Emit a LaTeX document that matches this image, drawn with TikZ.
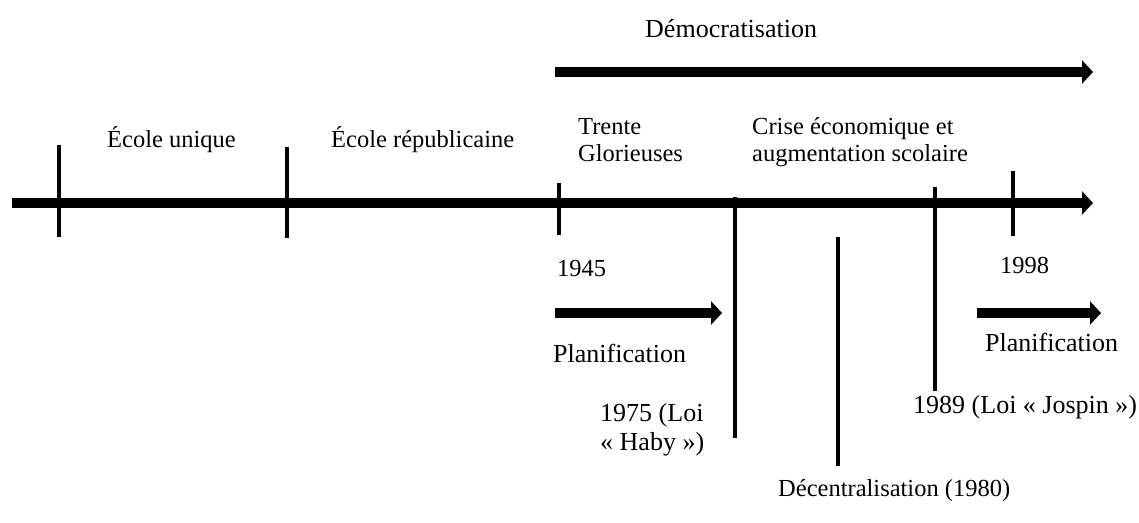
\documentclass[tikz,border=0pt]{standalone}
\usepackage{fontspec}
\setmainfont{Liberation Serif}
\usetikzlibrary{arrows.meta}

\tikzset{
	period/.style={line width=10pt, -{Triangle[length=11pt,width=23pt]}},
	tickline/.style={line width=3.5pt},
	lbl/.style={font=\fontsize{24.5}{27}\selectfont, inner sep=0pt, align=left},
	biglbl/.style={lbl, font=\fontsize{26}{29}\selectfont}
}

\begin{document}
\begin{tikzpicture}[x=1pt, y=-1pt]
	\useasboundingbox (0,0) rectangle (1139,522);
	% time axis and periods
	\coordinate (axisL) at (12,203);
	\coordinate (axisR) at (1093,203);
	\draw[period] (axisL)--(axisR);
	\coordinate (demoL) at (555,72);
	\coordinate (demoR) at (1093,72);
	\draw[period] (demoL)--(demoR);
	\coordinate (planAL) at (555,313);
	\coordinate (planAR) at (722,313);
	\draw[period] (planAL)--(planAR);
	\coordinate (planBL) at (977,313);
	\coordinate (planBR) at (1101,313);
	\draw[period] (planBL)--(planBR);
	% ticks
	\draw[tickline] (59,145)--(59,237);
	\draw[tickline] (287,147)--(287,238);
	\draw[tickline] (559,183)--(559,235);
	\draw[tickline] (735,197)--(735,438);
	\draw[tickline] (838,237)--(838,466);
	\draw[tickline] (935,187)--(935,391);
	\draw[tickline] (1013,171)--(1013,236);
	% labels
	\node[biglbl, anchor=base west] (demo) at (645,37) {Démocratisation};
	\node[lbl, anchor=base west] (unique) at (107,147) {École unique};
	\node[lbl, anchor=base west] (repub) at (331,147) {École républicaine};
	\node[lbl, anchor=north west] (trente) at (578,118) {Trente\\Glorieuses};
	\node[lbl, anchor=north west] (crise) at (752,117) {Crise économique et\\augmentation scolaire};
	\node[lbl, anchor=base west] (y1945) at (557,276) {1945};
	\node[lbl, anchor=base west] (y1998) at (1000,273) {1998};
	\node[biglbl, anchor=base west] (planA) at (553,362) {Planification};
	\node[biglbl, anchor=base west] (planB) at (985,351) {Planification};
	\node[biglbl, anchor=north west] (haby) at (600,403) {1975 (Loi\\« Haby »)};
	\node[lbl, anchor=base west] (decent) at (778,496) {Décentralisation (1980)};
	\node[biglbl, anchor=base west] (jospin) at (913,413) {1989 (Loi « Jospin »)};
\end{tikzpicture}
\end{document}
